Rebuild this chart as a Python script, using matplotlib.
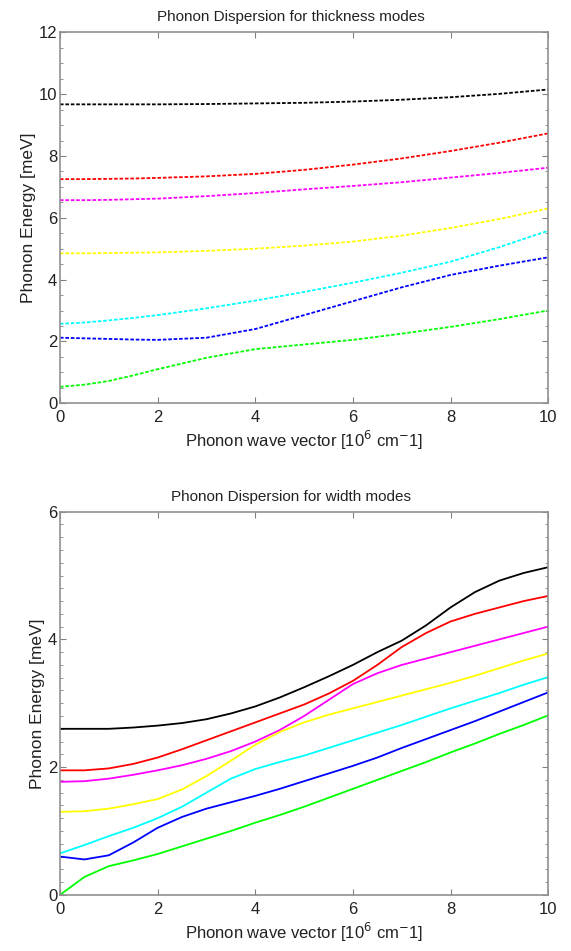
import numpy as np
import matplotlib
matplotlib.use("Agg")
import matplotlib.pyplot as plt
from matplotlib.ticker import MultipleLocator

plt.rcParams["font.family"] = ["Liberation Sans", "DejaVu Sans"]

# thickness modes (dotted), wave vector in 1e6 cm^-1, energy in meV
k_thick = [0, 0.5, 1, 1.5, 2, 3, 4, 5, 6, 7, 8, 9, 10]
thick_black = [9.67, 9.67, 9.67, 9.67, 9.67, 9.68, 9.70, 9.72, 9.76, 9.82, 9.90, 10.01, 10.15]
thick_red = [7.25, 7.25, 7.26, 7.27, 7.29, 7.34, 7.42, 7.55, 7.72, 7.92, 8.16, 8.43, 8.73]
thick_magenta = [6.57, 6.57, 6.58, 6.60, 6.62, 6.70, 6.80, 6.92, 7.03, 7.15, 7.30, 7.45, 7.62]
thick_yellow = [4.85, 4.85, 4.86, 4.87, 4.88, 4.93, 5.00, 5.10, 5.23, 5.42, 5.67, 5.96, 6.30]
thick_cyan = [2.57, 2.61, 2.68, 2.76, 2.85, 3.07, 3.32, 3.60, 3.90, 4.22, 4.58, 5.05, 5.58]
thick_blue = [2.12, 2.10, 2.08, 2.06, 2.05, 2.12, 2.40, 2.85, 3.30, 3.75, 4.15, 4.45, 4.72]
thick_green = [0.53, 0.60, 0.72, 0.90, 1.10, 1.47, 1.75, 1.90, 2.05, 2.25, 2.47, 2.72, 3.00]

# width modes (solid)
k_width = [0, 0.5, 1, 1.5, 2, 2.5, 3, 3.5, 4, 4.5, 5, 5.5, 6, 6.5, 7, 7.5, 8, 8.5, 9, 9.5, 10]
width_black = [2.60, 2.60, 2.60, 2.62, 2.65, 2.69, 2.75, 2.84, 2.95, 3.09, 3.25, 3.42, 3.60,
               3.80, 3.98, 4.22, 4.50, 4.74, 4.92, 5.04, 5.13]
width_red = [1.95, 1.95, 1.98, 2.05, 2.15, 2.28, 2.42, 2.56, 2.70, 2.84, 2.98, 3.15, 3.35,
             3.60, 3.88, 4.10, 4.28, 4.40, 4.50, 4.60, 4.68]
width_magenta = [1.77, 1.78, 1.82, 1.88, 1.95, 2.03, 2.13, 2.25, 2.40, 2.58, 2.80, 3.05, 3.30,
                 3.47, 3.60, 3.70, 3.80, 3.90, 4.00, 4.10, 4.20]
width_yellow = [1.30, 1.31, 1.35, 1.42, 1.50, 1.65, 1.86, 2.10, 2.35, 2.55, 2.70, 2.82, 2.92,
                3.02, 3.12, 3.22, 3.32, 3.43, 3.55, 3.67, 3.78]
width_cyan = [0.65, 0.78, 0.92, 1.05, 1.20, 1.38, 1.60, 1.82, 1.97, 2.08, 2.18, 2.30, 2.42,
              2.54, 2.66, 2.79, 2.92, 3.04, 3.16, 3.29, 3.41]
width_blue = [0.60, 0.555, 0.62, 0.82, 1.05, 1.22, 1.35, 1.45, 1.55, 1.66, 1.78, 1.90, 2.02,
              2.15, 2.30, 2.44, 2.58, 2.72, 2.87, 3.02, 3.17]
width_green = [0.00, 0.28, 0.45, 0.54, 0.64, 0.76, 0.88, 1.00, 1.13, 1.25, 1.38, 1.52, 1.66,
               1.80, 1.94, 2.08, 2.23, 2.37, 2.52, 2.66, 2.81]

colors = ["#000000", "#ff0000", "#ff00ff", "#ffff00", "#00ffff", "#0000ff", "#00ff00"]
thick = [thick_black, thick_red, thick_magenta, thick_yellow, thick_cyan, thick_blue, thick_green]
width = [width_black, width_red, width_magenta, width_yellow, width_cyan, width_blue, width_green]

fig = plt.figure(figsize=(5.71, 9.51), dpi=100)
ax1 = fig.add_axes([0.105, 0.576, 0.855, 0.390])
ax2 = fig.add_axes([0.105, 0.059, 0.855, 0.403])

for c, y in zip(colors, thick):
    ax1.plot(k_thick, y, color=c, lw=1.3, ls=(0, (2, 1)))
for c, y in zip(colors, width):
    ax2.plot(k_width, y, color=c, lw=1.3)

xlabel = r"Phonon wave vector [10$^{6}$ cm$^{-}$1]"
for ax, ymax, ymaj, ymin, title in ((ax1, 12, 2, 0.5, "Phonon Dispersion for thickness modes"),
                                    (ax2, 6, 2, 0.2, "Phonon Dispersion for width modes")):
    ax.set_xlim(0, 10)
    ax.set_ylim(0, ymax)
    ax.xaxis.set_major_locator(MultipleLocator(2))
    ax.yaxis.set_major_locator(MultipleLocator(ymaj))
    ax.yaxis.set_minor_locator(MultipleLocator(ymin))
    ax.tick_params(which="both", direction="in", top=True, right=True,
                   color="#808080", labelsize=12, labelcolor="#222222")
    ax.tick_params(axis="x", pad=5)
    ax.tick_params(axis="y", pad=2)
    ax.tick_params(which="major", length=4)
    ax.tick_params(which="minor", length=2)
    for s in ax.spines.values():
        s.set_color("#909090")
        s.set_linewidth(1.2)
    ax.set_title(title, fontsize=11, color="#222222", pad=8, x=0.473)
    ax.set_xlabel(xlabel, fontsize=12, color="#222222", labelpad=3)
    ax.set_ylabel("Phonon Energy [meV]", fontsize=12.5, color="#222222", labelpad=2)

fig.savefig("out.png", dpi=100)
